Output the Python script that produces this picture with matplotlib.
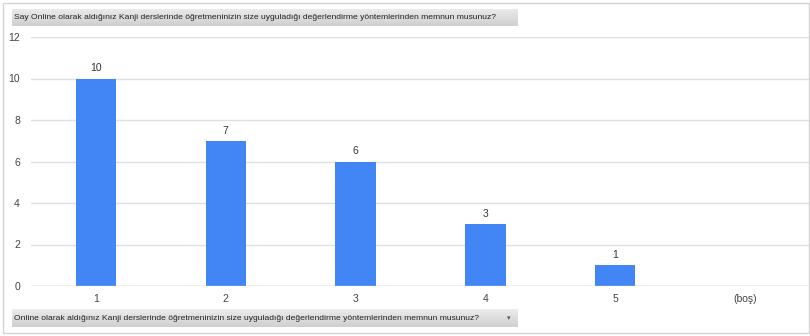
import numpy as np
import matplotlib.pyplot as plt
from matplotlib.patches import Rectangle
from matplotlib.colors import LinearSegmentedColormap

soru = "Online olarak aldığınız Kanji derslerinde öğretmeninizin size uyguladığı değerlendirme yöntemlerinden memnun musunuz?"
kategoriler = ["1", "2", "3", "4", "5", "(boş)"]
sayilar = [10, 7, 6, 3, 1, 0]
y_ticks = [0, 2, 4, 6, 8, 10, 12]

W, H = 810, 336
fig = plt.figure(figsize=(W / 100, H / 100), dpi=100)
plt.rcParams['font.family'] = ['Liberation Sans', 'DejaVu Sans']

# kenarlik
fig.add_artist(Rectangle((3 / W, 3 / H), 1 - 4 / W, 1 - 6 / H, transform=fig.transFigure,
                         fill=False, edgecolor='#d4d4d4', linewidth=1))

ax = fig.add_axes([31 / W, (H - 286) / H, 1 - 31 / W, (286 - 37) / H])
x = np.arange(len(kategoriler))
bars = ax.bar(x, sayilar, width=0.31, color='#4285f4', zorder=3)
for xi, v in zip(x, sayilar):
    if v > 0:
        ax.text(xi, v + 0.25, str(v), ha='center', va='bottom', fontsize=7.5, color='#333333')

ax.set_xlim(-0.5, 5.5)
ax.set_ylim(0, 12)
ax.set_yticks(y_ticks)
ax.set_xticks(x)
ax.set_xticklabels(kategoriler)
ax.tick_params(axis='both', length=0, labelsize=7.5, labelcolor='#444444')
ax.tick_params(axis='y', pad=8)
ax.tick_params(axis='x', pad=6)
ax.grid(axis='y', color='#e0e0e0', linewidth=1, zorder=0)
ax.axhline(0, color='#cccccc', linewidth=1, zorder=4)
for s in ax.spines.values():
    s.set_visible(False)

# gri cubuklar icin gradyan
gri = LinearSegmentedColormap.from_list('gri', ['#cfcfcf', '#ececec'])
grad = np.linspace(0, 1, 50).reshape(-1, 1)

# ust baslik cubugu
hx = fig.add_axes([12 / W, (H - 26) / H, 506 / W, 17 / H], zorder=0)
hx.imshow(grad, aspect='auto', cmap=gri, origin='lower', extent=[0, 1, 0, 1])
hx.set_axis_off()
fig.text(14 / W, (H - 17.5) / H, "Say " + soru, fontsize=6.1, color='#222222', va='center')

# alt filtre cubugu
bx = fig.add_axes([12 / W, (H - 327) / H, 506 / W, 18 / H], zorder=0)
bx.imshow(grad, aspect='auto', cmap=gri, origin='lower', extent=[0, 1, 0, 1])
bx.set_axis_off()
fig.text(14 / W, (H - 318) / H, soru, fontsize=6.1, color='#222222', va='center')
fig.text(509 / W, (H - 318) / H, "▾", fontsize=5, color='#555555', va='center', ha='center',
         family=['DejaVu Sans'])

fig.savefig('out.png', dpi=100)
